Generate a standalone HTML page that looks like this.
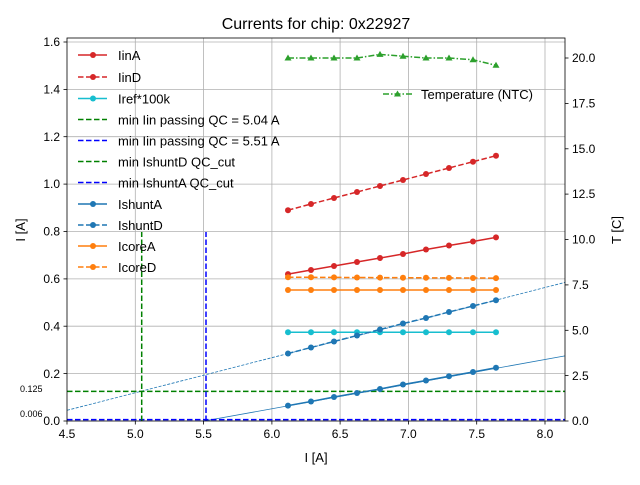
<!DOCTYPE html><html><head><style>body{margin:0;background:#fff}svg text{font-family:"Liberation Sans",sans-serif}</style></head><body>
<svg width="640" height="480" xmlns="http://www.w3.org/2000/svg">
<rect width="640" height="480" fill="#fff"/>
<g stroke="#b0b0b0" stroke-width="0.8">
<line x1="135.3" y1="38" x2="135.3" y2="421"/><line x1="203.6" y1="38" x2="203.6" y2="421"/><line x1="271.9" y1="38" x2="271.9" y2="421"/><line x1="340.1" y1="38" x2="340.1" y2="421"/><line x1="408.4" y1="38" x2="408.4" y2="421"/><line x1="476.7" y1="38" x2="476.7" y2="421"/><line x1="545" y1="38" x2="545" y2="421"/>
<line x1="67" y1="373.6" x2="565" y2="373.6"/><line x1="67" y1="326.2" x2="565" y2="326.2"/><line x1="67" y1="278.9" x2="565" y2="278.9"/><line x1="67" y1="231.5" x2="565" y2="231.5"/><line x1="67" y1="184.1" x2="565" y2="184.1"/><line x1="67" y1="136.7" x2="565" y2="136.7"/><line x1="67" y1="89.4" x2="565" y2="89.4"/><line x1="67" y1="42" x2="565" y2="42"/>
</g>
<!-- thin fits -->
<line x1="67" y1="410.3" x2="565" y2="282.4" stroke="#1f77b4" stroke-width="0.8" stroke-dasharray="3,1.5"/>
<line x1="204" y1="421" x2="565" y2="355.9" stroke="#1f77b4" stroke-width="0.8"/>
<line x1="67" y1="391.4" x2="565" y2="391.4" stroke="#008000" stroke-width="1.5" stroke-dasharray="5.5,2.5"/>
<line x1="67" y1="419.6" x2="565" y2="419.6" stroke="#0000ff" stroke-width="1.5" stroke-dasharray="5.5,2.5"/>
<line x1="141.7" y1="421" x2="141.7" y2="232" stroke="#008000" stroke-width="1.5" stroke-dasharray="5.5,2.5"/>
<line x1="206" y1="421" x2="206" y2="232" stroke="#0000ff" stroke-width="1.5" stroke-dasharray="5.5,2.5"/>
<text x="20" y="392" font-size="9">0.125</text><text x="20" y="417" font-size="9">0.006</text>
<!-- series -->
<g stroke-width="1.5" fill="none">
<polyline stroke="#d62728" points="288,274.1 311,270 334,266 357,262 380,258 403,254 426,249.5 449,245.5 473,241.5 496,237.4"/>
<polyline stroke="#d62728" stroke-dasharray="5.5,2.5" points="288,210.2 311,204 334,198 357,192 380,186 403,180 426,174 449,168 473,161.7 496,155.7"/>
<polyline stroke="#17becf" points="288,332.2 496,332.2"/>
<polyline stroke="#ff7f0e" points="288,290 496,290"/>
<polyline stroke="#ff7f0e" stroke-dasharray="5.5,2.5" points="288,277.2 496,278.1"/>
<polyline stroke="#1f77b4" points="288,405.6 311,401.5 334,397 357,393 380,389 403,384.5 426,380.5 449,376.3 473,372 496,367.7"/>
<polyline stroke="#1f77b4" stroke-dasharray="5.5,2.5" points="288,353.5 311,347.5 334,341.5 357,335.5 380,329.5 403,323.5 426,318 449,312 473,306 496,300.2"/>
<polyline stroke="#2ca02c" stroke-dasharray="6,2,1.5,2" points="288,58 311,58 334,58 357,58 380,54.4 403,56.2 426,58 449,58 473,59.8 496,65.3"/>
</g>
<g id="m">
<g fill="#d62728"><circle cx="288" cy="274.1" r="3"/><circle cx="311" cy="270" r="3"/><circle cx="334" cy="266" r="3"/><circle cx="357" cy="262" r="3"/><circle cx="380" cy="258" r="3"/><circle cx="403" cy="254" r="3"/><circle cx="426" cy="249.5" r="3"/><circle cx="449" cy="245.5" r="3"/><circle cx="473" cy="241.5" r="3"/><circle cx="496" cy="237.4" r="3"/>
<circle cx="288" cy="210.2" r="3"/><circle cx="311" cy="204" r="3"/><circle cx="334" cy="198" r="3"/><circle cx="357" cy="192" r="3"/><circle cx="380" cy="186" r="3"/><circle cx="403" cy="180" r="3"/><circle cx="426" cy="174" r="3"/><circle cx="449" cy="168" r="3"/><circle cx="473" cy="161.7" r="3"/><circle cx="496" cy="155.7" r="3"/></g>
<g fill="#17becf"><circle cx="288" cy="332.2" r="3"/><circle cx="311" cy="332.2" r="3"/><circle cx="334" cy="332.2" r="3"/><circle cx="357" cy="332.2" r="3"/><circle cx="380" cy="332.2" r="3"/><circle cx="403" cy="332.2" r="3"/><circle cx="426" cy="332.2" r="3"/><circle cx="449" cy="332.2" r="3"/><circle cx="473" cy="332.2" r="3"/><circle cx="496" cy="332.2" r="3"/></g>
<g fill="#ff7f0e"><circle cx="288" cy="290" r="3"/><circle cx="311" cy="290" r="3"/><circle cx="334" cy="290" r="3"/><circle cx="357" cy="290" r="3"/><circle cx="380" cy="290" r="3"/><circle cx="403" cy="290" r="3"/><circle cx="426" cy="290" r="3"/><circle cx="449" cy="290" r="3"/><circle cx="473" cy="290" r="3"/><circle cx="496" cy="290" r="3"/>
<circle cx="288" cy="277.2" r="3"/><circle cx="311" cy="277.3" r="3"/><circle cx="334" cy="277.4" r="3"/><circle cx="357" cy="277.5" r="3"/><circle cx="380" cy="277.6" r="3"/><circle cx="403" cy="277.7" r="3"/><circle cx="426" cy="277.8" r="3"/><circle cx="449" cy="277.9" r="3"/><circle cx="473" cy="278" r="3"/><circle cx="496" cy="278.1" r="3"/></g>
<g fill="#1f77b4"><circle cx="288" cy="405.6" r="3"/><circle cx="311" cy="401.5" r="3"/><circle cx="334" cy="397" r="3"/><circle cx="357" cy="393" r="3"/><circle cx="380" cy="389" r="3"/><circle cx="403" cy="384.5" r="3"/><circle cx="426" cy="380.5" r="3"/><circle cx="449" cy="376.3" r="3"/><circle cx="473" cy="372" r="3"/><circle cx="496" cy="367.7" r="3"/>
<circle cx="288" cy="353.5" r="3"/><circle cx="311" cy="347.5" r="3"/><circle cx="334" cy="341.5" r="3"/><circle cx="357" cy="335.5" r="3"/><circle cx="380" cy="329.5" r="3"/><circle cx="403" cy="323.5" r="3"/><circle cx="426" cy="318" r="3"/><circle cx="449" cy="312" r="3"/><circle cx="473" cy="306" r="3"/><circle cx="496" cy="300.2" r="3"/></g>
<g fill="#2ca02c"><path d="M288,54.5l3.5,6h-7z"/><path d="M311,54.5l3.5,6h-7z"/><path d="M334,54.5l3.5,6h-7z"/><path d="M357,54.5l3.5,6h-7z"/><path d="M380,50.9l3.5,6h-7z"/><path d="M403,52.7l3.5,6h-7z"/><path d="M426,54.5l3.5,6h-7z"/><path d="M449,54.5l3.5,6h-7z"/><path d="M473,56.3l3.5,6h-7z"/><path d="M496,61.8l3.5,6h-7z"/></g>
</g>
<!-- frame -->
<rect x="67" y="38" width="498" height="383" fill="none" stroke="#000" stroke-width="0.8"/>
<!-- ticks -->
<g stroke="#000" stroke-width="0.8">
<line x1="67" y1="421" x2="67" y2="424.5"/><line x1="135.3" y1="421" x2="135.3" y2="424.5"/><line x1="203.6" y1="421" x2="203.6" y2="424.5"/><line x1="271.9" y1="421" x2="271.9" y2="424.5"/><line x1="340.1" y1="421" x2="340.1" y2="424.5"/><line x1="408.4" y1="421" x2="408.4" y2="424.5"/><line x1="476.7" y1="421" x2="476.7" y2="424.5"/><line x1="545" y1="421" x2="545" y2="424.5"/>
<line x1="63.5" y1="421" x2="67" y2="421"/><line x1="63.5" y1="373.6" x2="67" y2="373.6"/><line x1="63.5" y1="326.2" x2="67" y2="326.2"/><line x1="63.5" y1="278.9" x2="67" y2="278.9"/><line x1="63.5" y1="231.5" x2="67" y2="231.5"/><line x1="63.5" y1="184.1" x2="67" y2="184.1"/><line x1="63.5" y1="136.7" x2="67" y2="136.7"/><line x1="63.5" y1="89.4" x2="67" y2="89.4"/><line x1="63.5" y1="42" x2="67" y2="42"/>
<line x1="565" y1="421" x2="568.5" y2="421"/><line x1="565" y1="375.6" x2="568.5" y2="375.6"/><line x1="565" y1="330.3" x2="568.5" y2="330.3"/><line x1="565" y1="284.9" x2="568.5" y2="284.9"/><line x1="565" y1="239.5" x2="568.5" y2="239.5"/><line x1="565" y1="194.1" x2="568.5" y2="194.1"/><line x1="565" y1="148.8" x2="568.5" y2="148.8"/><line x1="565" y1="103.4" x2="568.5" y2="103.4"/><line x1="565" y1="58" x2="568.5" y2="58"/>
</g>
<g font-size="12" text-anchor="middle"><text x="67" y="438">4.5</text><text x="135.3" y="438">5.0</text><text x="203.6" y="438">5.5</text><text x="271.9" y="438">6.0</text><text x="340.1" y="438">6.5</text><text x="408.4" y="438">7.0</text><text x="476.7" y="438">7.5</text><text x="545" y="438">8.0</text></g>
<g font-size="12" text-anchor="end"><text x="60" y="425">0.0</text><text x="60" y="378">0.2</text><text x="60" y="330.5">0.4</text><text x="60" y="283">0.6</text><text x="60" y="235.5">0.8</text><text x="60" y="188">1.0</text><text x="60" y="141">1.2</text><text x="60" y="93.5">1.4</text><text x="60" y="46">1.6</text></g>
<g font-size="12"><text x="572" y="425">0.0</text><text x="572" y="380">2.5</text><text x="572" y="334.5">5.0</text><text x="572" y="289">7.5</text><text x="572" y="243.5">10.0</text><text x="572" y="198">12.5</text><text x="572" y="153">15.0</text><text x="572" y="107.5">17.5</text><text x="572" y="62">20.0</text></g>
<text x="316" y="462" font-size="13" text-anchor="middle">I [A]</text>
<text x="25" y="230" font-size="13" text-anchor="middle" transform="rotate(-90 25 230)">I [A]</text>
<text x="621" y="230" font-size="13" text-anchor="middle" transform="rotate(-90 621 230)">T [C]</text>
<text x="316" y="29" font-size="16" text-anchor="middle">Currents for chip: 0x22927</text>
<!-- legend -->
<g stroke-width="1.5">
<line x1="78" y1="55" x2="107" y2="55" stroke="#d62728"/><circle cx="93" cy="55" r="3" fill="#d62728"/>
<line x1="78" y1="77" x2="107" y2="77" stroke="#d62728" stroke-dasharray="5.5,2.5"/><circle cx="93" cy="77" r="3" fill="#d62728"/>
<line x1="78" y1="98.5" x2="107" y2="98.5" stroke="#17becf"/><circle cx="93" cy="98.5" r="3" fill="#17becf"/>
<line x1="78" y1="119.5" x2="107" y2="119.5" stroke="#008000" stroke-dasharray="5.5,2.5"/>
<line x1="78" y1="140.5" x2="107" y2="140.5" stroke="#0000ff" stroke-dasharray="5.5,2.5"/>
<line x1="78" y1="161.5" x2="107" y2="161.5" stroke="#008000" stroke-dasharray="5.5,2.5"/>
<line x1="78" y1="182.5" x2="107" y2="182.5" stroke="#0000ff" stroke-dasharray="5.5,2.5"/>
<line x1="78" y1="204" x2="107" y2="204" stroke="#1f77b4"/><circle cx="93" cy="204" r="3" fill="#1f77b4"/>
<line x1="78" y1="225" x2="107" y2="225" stroke="#1f77b4" stroke-dasharray="5.5,2.5"/><circle cx="93" cy="225" r="3" fill="#1f77b4"/>
<line x1="78" y1="246" x2="107" y2="246" stroke="#ff7f0e"/><circle cx="93" cy="246" r="3" fill="#ff7f0e"/>
<line x1="78" y1="267" x2="107" y2="267" stroke="#ff7f0e" stroke-dasharray="5.5,2.5"/><circle cx="93" cy="267" r="3" fill="#ff7f0e"/>
<line x1="383" y1="94" x2="412" y2="94" stroke="#2ca02c" stroke-dasharray="6,2,1.5,2"/><path d="M397.5,90.5l3.5,6h-7z" fill="#2ca02c"/>
</g>
<g font-size="13"><text x="118" y="60">IinA</text><text x="118" y="82">IinD</text><text x="118" y="103.5">Iref*100k</text><text x="118" y="124.5">min Iin passing QC = 5.04 A</text><text x="118" y="145.5">min Iin passing QC = 5.51 A</text><text x="118" y="166.5">min IshuntD QC_cut</text><text x="118" y="187.5">min IshuntA QC_cut</text><text x="118" y="209">IshuntA</text><text x="118" y="230">IshuntD</text><text x="118" y="251">IcoreA</text><text x="118" y="272">IcoreD</text><text x="421" y="99">Temperature (NTC)</text></g>
</svg>
</body></html>
